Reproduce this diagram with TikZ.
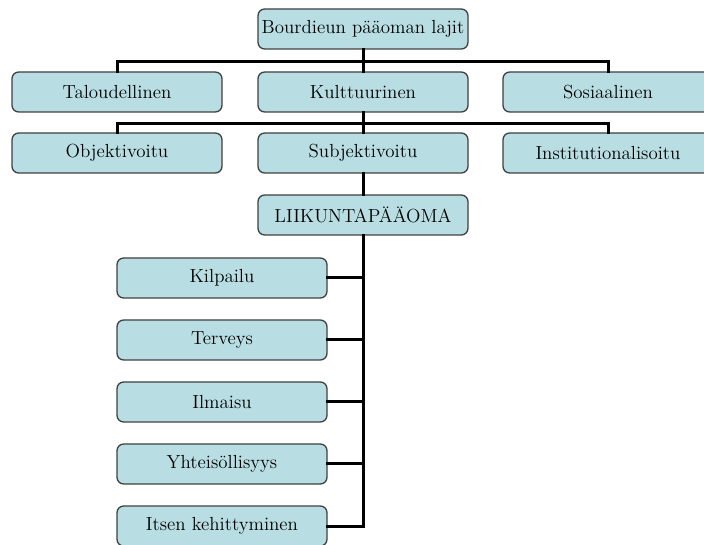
\documentclass[tikz,border=0pt]{standalone}
\usepackage{tikz}

\definecolor{boxfill}{RGB}{184,222,227}
\definecolor{boxline}{RGB}{64,64,64}

\begin{document}
\begin{tikzpicture}[x=0.75pt,y=0.75pt,yscale=-1,xscale=1,
  pbox/.style={draw=boxline,line width=1pt,fill=boxfill,rounded corners=5pt,
    minimum width=157.5pt,minimum height=30pt,inner sep=0.75pt,
    font=\fontsize{14.2}{16}\selectfont},
  conn/.style={line width=2.25pt,line cap=rect}]
\useasboundingbox (0,0) rectangle (704,545);

%Rounded Rect top
\node [pbox] (bourdieu) at (363,29) {Bourdieun pääoman lajit};
%Rounded Rect row 1
\node [pbox] (talous) at (117,92) {Taloudellinen};
\node [pbox] (kulttuuri) at (363,92) {Kulttuurinen};
\node [pbox] (sosiaali) at (608,92) {Sosiaalinen};
%Rounded Rect row 2
\node [pbox] (objekti) at (117,153) {Objektivoitu};
\node [pbox] (subjekti) at (363,153) {Subjektivoitu};
\node [pbox] (instituutio) at (608,153) {Institutionalisoitu};
%Rounded Rect middle
\node [pbox] (liikunta) at (363,215) {LIIKUNTAPÄÄOMA};
%Rounded Rect list
\node [pbox] (kilpailu) at (222,278) {Kilpailu};
\node [pbox] (terveys) at (222,340) {Terveys};
\node [pbox] (ilmaisu) at (222,402) {Ilmaisu};
\node [pbox] (yhteiso) at (222,464) {Yhteisöllisyys};
\node [pbox] (itsen) at (222,526) {Itsen kehittyminen};

%Straight Lines
\coordinate (haara1) at (363,62);
\coordinate (haara2) at (363,124);
\draw [conn] (bourdieu.south) -- (kulttuuri.north);
\draw [conn] (talous.north) |- (haara1) -| (sosiaali.north);
\draw [conn] (kulttuuri.south) -- (subjekti.north);
\draw [conn] (objekti.north) |- (haara2) -| (instituutio.north);
\draw [conn] (subjekti.south) -- (liikunta.north);
\draw [conn] (liikunta.south) |- (itsen.east);
\foreach \n in {kilpailu,terveys,ilmaisu,yhteiso}
  \draw [conn] (\n.east) -- (\n.east -| liikunta.south);

\end{tikzpicture}
\end{document}
